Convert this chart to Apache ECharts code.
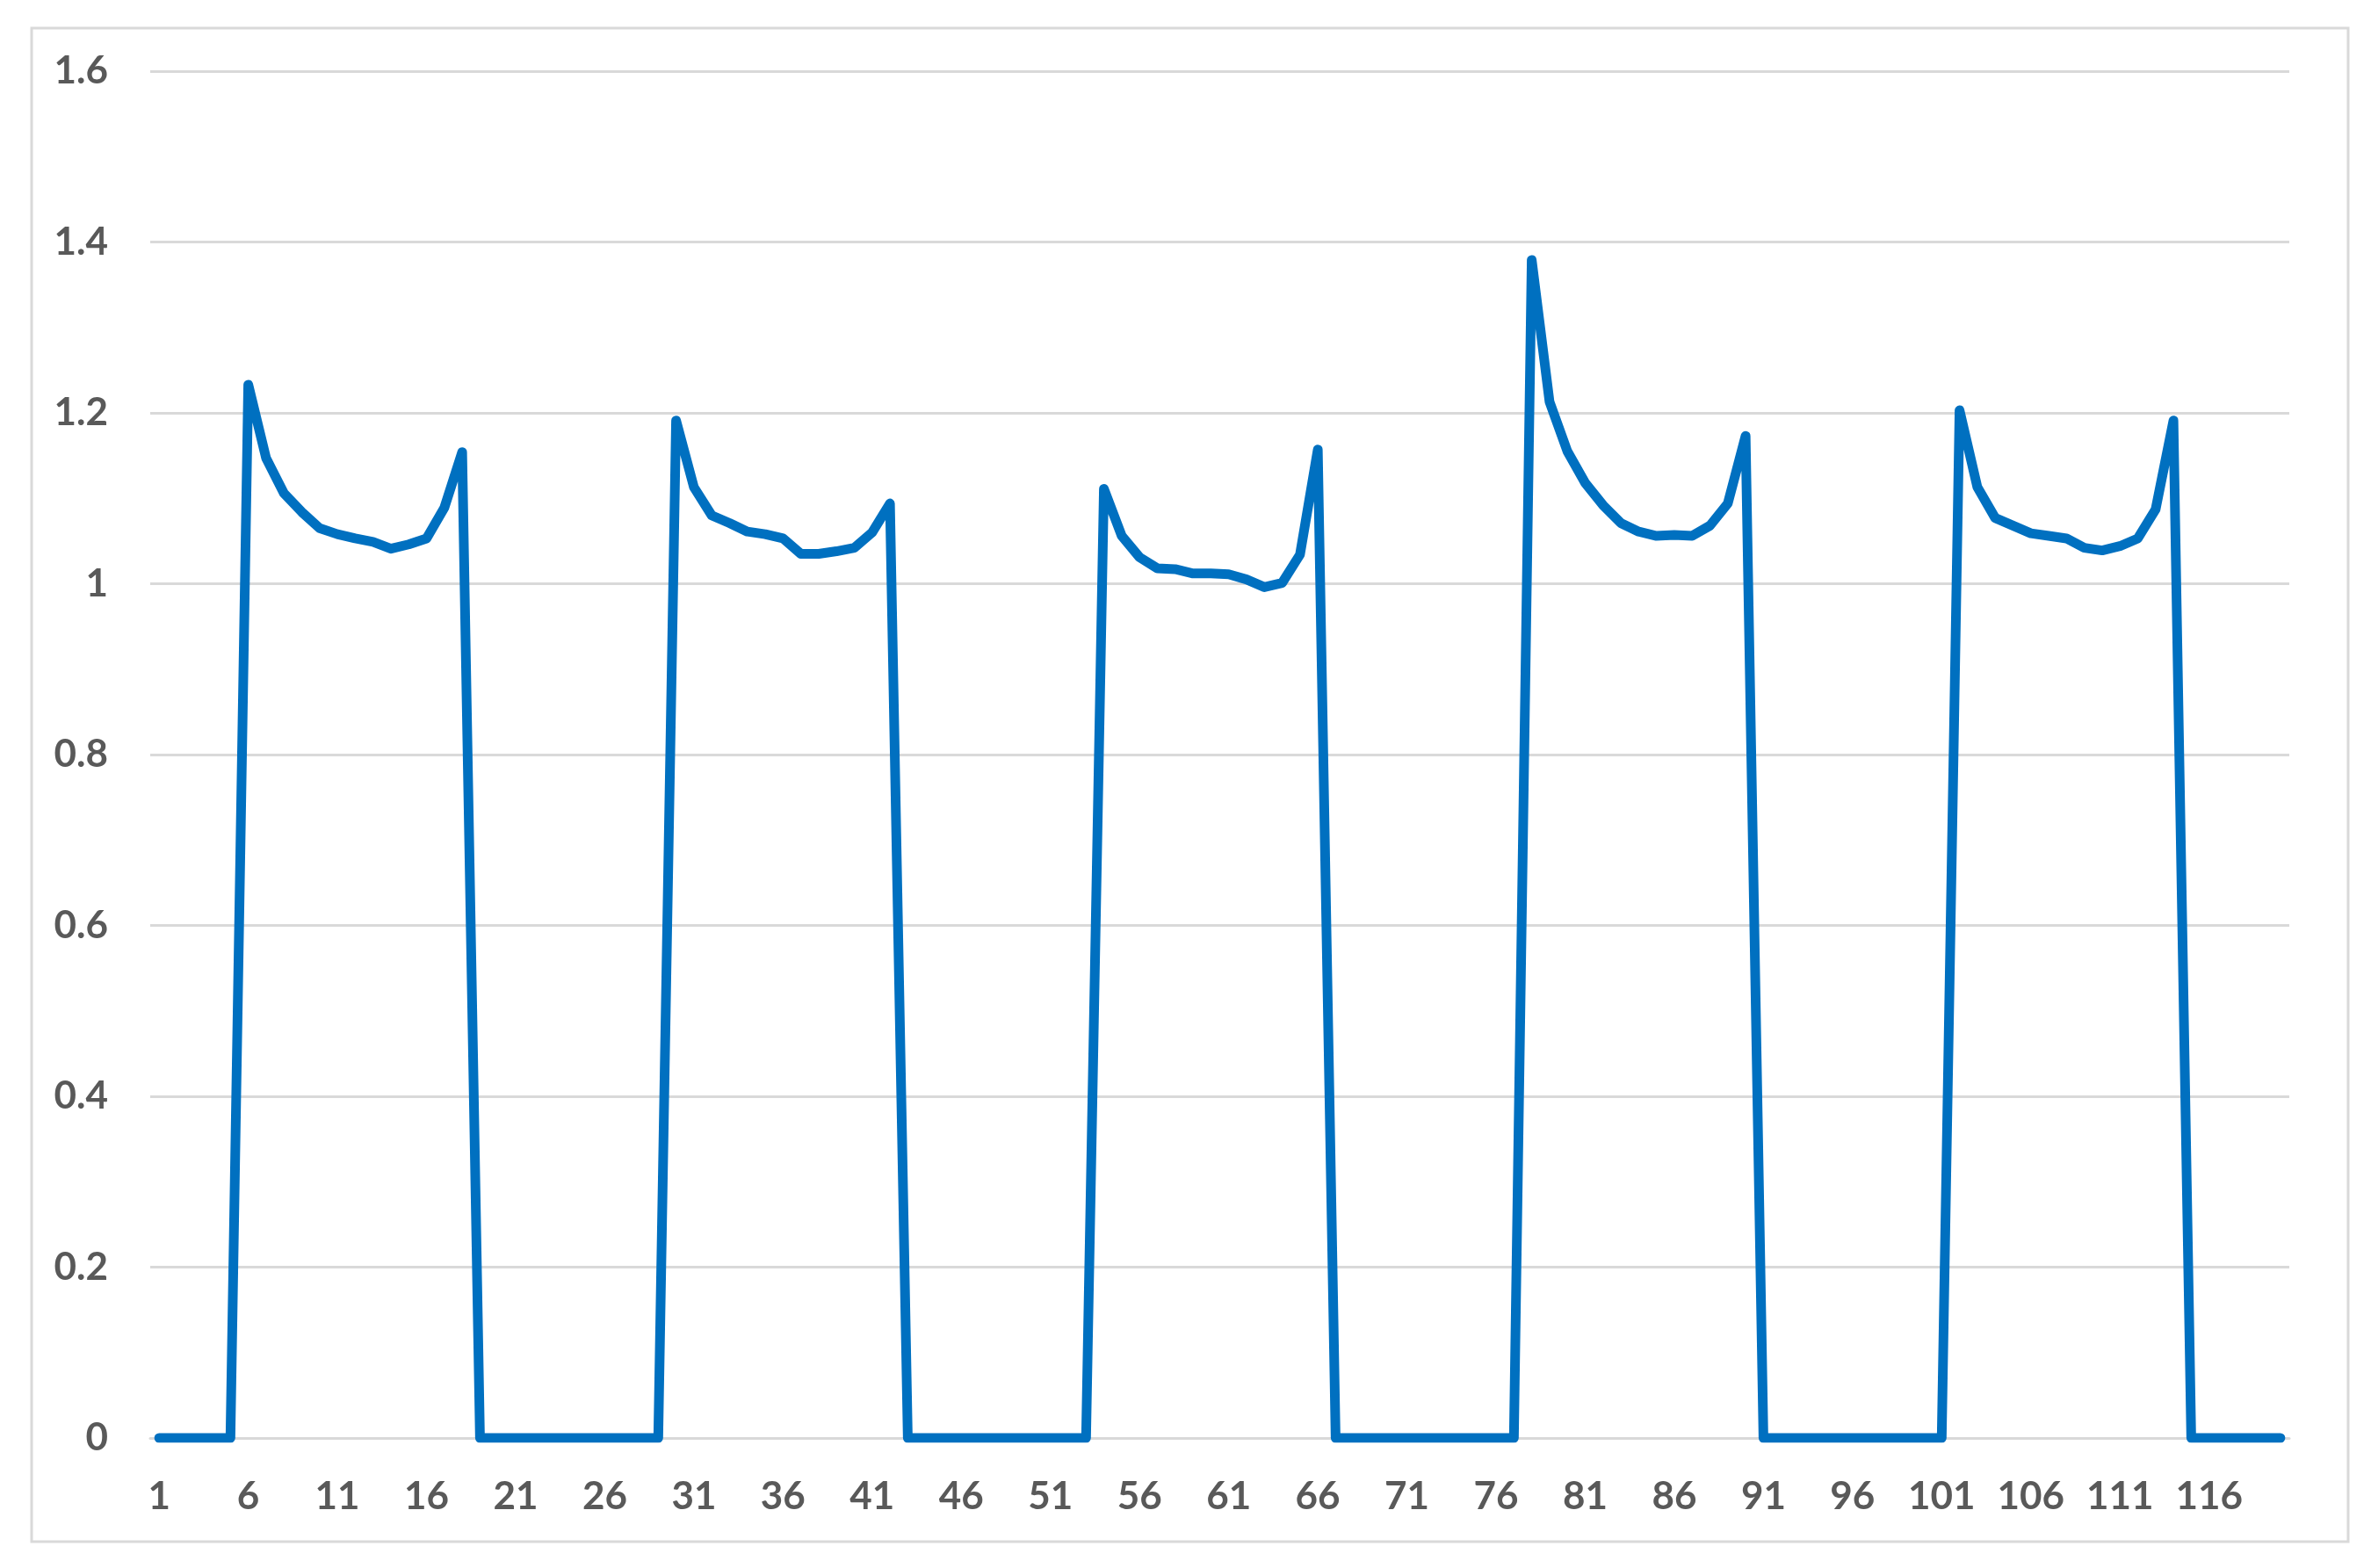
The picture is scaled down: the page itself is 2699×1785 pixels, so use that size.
<!DOCTYPE html>
<html>
<head>
<meta charset="utf-8">
<title>Pulse chart</title>
<script src="https://cdn.jsdelivr.net/npm/echarts@6/dist/echarts.min.js"></script>
<style>
  html, body { margin: 0; padding: 0; background: #fff; }
  #chart { width: 2699px; height: 1785px; }
</style>
</head>
<body>
<div id="chart"></div>
<script>
// x categories 1..120
const categories = [];
for (let i = 1; i <= 120; i++) categories.push(String(i));

// y ticks
const yTicks = [0, 0.2, 0.4, 0.6, 0.8, 1, 1.2, 1.4, 1.6];

// the five pulses
const pulse1 = [1.233, 1.147, 1.106, 1.084, 1.065, 1.058, 1.053, 1.049, 1.041, 1.046, 1.053, 1.089, 1.154];
const pulse2 = [1.191, 1.113, 1.080, 1.071, 1.061, 1.058, 1.053, 1.035, 1.035, 1.038, 1.042, 1.060, 1.094];
const pulse3 = [1.111, 1.056, 1.031, 1.018, 1.017, 1.012, 1.012, 1.011, 1.005, 0.996, 1.001, 1.034, 1.157];
const pulse4 = [1.379, 1.213, 1.155, 1.118, 1.092, 1.071, 1.061, 1.056, 1.057, 1.056, 1.068, 1.094, 1.173];
const pulse5 = [1.203, 1.113, 1.077, 1.068, 1.059, 1.056, 1.053, 1.042, 1.039, 1.044, 1.053, 1.087, 1.191];

// zero runs between pulses
const gap0 = [0, 0, 0, 0, 0];
const gap = [0, 0, 0, 0, 0, 0, 0, 0, 0, 0, 0];
const gapEnd = [0, 0, 0, 0, 0, 0];

const values = [].concat(gap0, pulse1, gap, pulse2, gap, pulse3, gap, pulse4, gap, pulse5, gapEnd);

const chart = echarts.init(document.getElementById('chart'));

const labelStyle = {
  color: '#595959',
  fontFamily: 'Lato',
  fontWeight: 'bold',
  fontSize: 44
};

chart.setOption({
  animation: false,
  backgroundColor: '#ffffff',
  graphic: [{
    type: 'rect',
    shape: { x: 36, y: 32, width: 2637, height: 1723 },
    style: { fill: 'none', stroke: '#d9d9d9', lineWidth: 3 },
    silent: true
  }],
  grid: { left: 171, right: 93, top: 81, bottom: 148 },
  xAxis: {
    type: 'category',
    data: categories,
    boundaryGap: true,
    axisLine: { show: true, lineStyle: { color: '#d9d9d9', width: 3 } },
    axisTick: { show: false },
    axisLabel: Object.assign({ interval: 4, margin: 45 }, labelStyle)
  },
  yAxis: {
    type: 'value',
    min: yTicks[0],
    max: yTicks[yTicks.length - 1],
    interval: 0.2,
    axisLine: { show: false },
    axisTick: { show: false },
    splitLine: { lineStyle: { color: '#d9d9d9', width: 3 } },
    axisLabel: Object.assign({ margin: 48 }, labelStyle)
  },
  series: [{
    type: 'line',
    data: values,
    showSymbol: false,
    symbol: 'none',
    lineStyle: { color: '#0070C0', width: 11, cap: 'round', join: 'round' }
  }]
});
</script>
</body>
</html>
